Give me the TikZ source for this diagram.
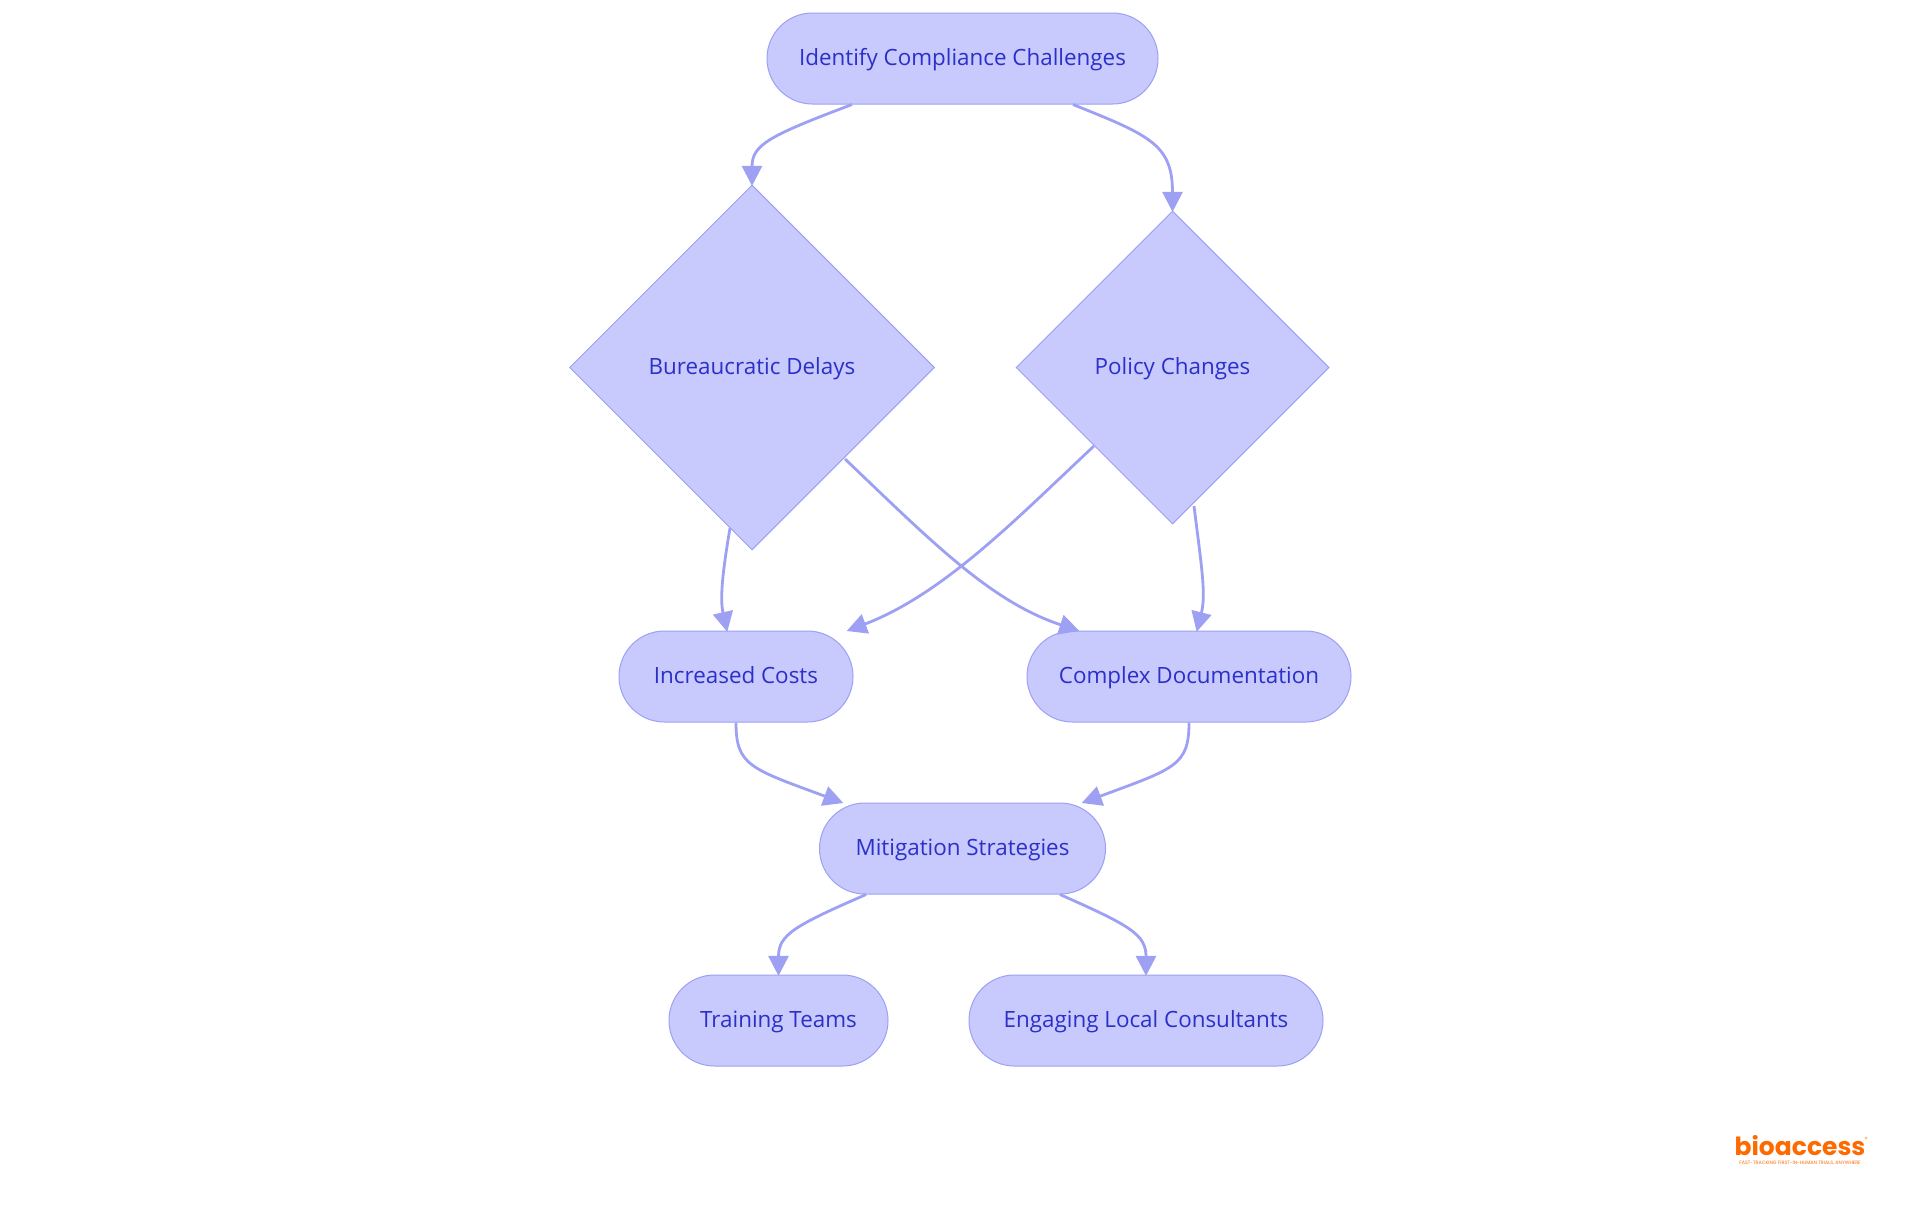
\documentclass[tikz,border=0pt]{standalone}
\usepackage{fontspec}
\usepackage{tikz}
\usetikzlibrary{shapes.geometric,arrows.meta}
\setmainfont{Open Sans}
\newfontfamily\logofont{Poppins}
\definecolor{flowfill}{HTML}{C8C9FD}
\definecolor{flowline}{HTML}{9DA0F3}
\definecolor{flowtext}{HTML}{2B30C8}
\definecolor{logoorange}{HTML}{FF6A00}

\begin{document}
\begin{tikzpicture}[x=0.5pt,y=-0.5pt]
\tikzstyle{pill}=[rectangle,draw=flowline,fill=flowfill,text=flowtext,line width=0.5pt,rounded corners=22.7pt,minimum height=45.5pt,text height=9pt,text depth=2pt,font=\fontsize{11.2}{13}\selectfont]
\tikzstyle{choice}=[diamond,draw=flowline,fill=flowfill,text=flowtext,line width=0.5pt,inner sep=0pt,text height=9pt,text depth=2pt,font=\fontsize{11.2}{13}\selectfont]
\tikzstyle{flow}=[draw=flowline,line width=1.4pt,shorten >=-0.7pt,-{Triangle[length=10pt,width=10pt]}]
\useasboundingbox (0,0) rectangle (1920,1215);

\node[pill,minimum width=195.5pt] (challenges) at (962.5,58.5) {Identify Compliance Challenges};
\node[choice,minimum width=182.5pt,minimum height=182.5pt] (delays) at (752,367.5) {Bureaucratic Delays};
\node[choice,minimum width=156.5pt,minimum height=156.5pt] (policy) at (1172.5,367.5) {Policy Changes};
\node[pill,minimum width=117pt] (costs) at (736,676.5) {Increased Costs};
\node[pill,minimum width=162pt] (docs) at (1189,676.5) {Complex Documentation};
\node[pill,minimum width=143pt] (mitigation) at (962.5,848.5) {Mitigation Strategies};
\node[pill,minimum width=109.5pt] (training) at (778.5,1020.5) {Training Teams};
\node[pill,minimum width=177pt] (consultants) at (1146,1020.5) {Engaging Local Consultants};

\draw[flow] ([shift={(-110.5,0)}]challenges.south) .. controls +(-82,31) and +(0,-40) .. (delays.north);
\draw[flow] ([shift={(110.5,0)}]challenges.south) .. controls +(77,31) and +(0,-66) .. (policy.north);
\draw[flow] ([shift={(-22,160.5)}]delays.center) .. controls +(-8,47) and +(-7,-31) .. ([shift={(-9,0)}]costs.north);
\draw[flow] ([shift={(93,91.5)}]delays.center) .. controls +(85,81) and +(-88,-29) .. ([shift={(-111,0)}]docs.north);
\draw[flow] ([shift={(-78.5,78.5)}]policy.center) .. controls +(-74,69) and +(97,-37) .. ([shift={(112,0)}]costs.north);
\draw[flow] ([shift={(21.5,138.5)}]policy.center) .. controls +(8,64) and +(9,-36) .. ([shift={(8,0)}]docs.north);
\draw[flow] (costs.south) .. controls +(0,43) and +(-92,-34) .. ([shift={(-120.5,0)}]mitigation.north);
\draw[flow] (docs.south) .. controls +(0,43) and +(92,-34) .. ([shift={(120.5,0)}]mitigation.north);
\draw[flow] ([shift={(-96.5,0)}]mitigation.south) .. controls +(-71,31) and +(0,-40) .. (training.north);
\draw[flow] ([shift={(97.5,0)}]mitigation.south) .. controls +(70,31) and +(0,-40) .. (consultants.north);

\node[anchor=base,text=logoorange,inner sep=0pt,font=\logofont\bfseries\fontsize{12.5}{14}\selectfont] (logo) at (1800,1155) {bioaccess};
\node[text=logoorange,inner sep=0pt,font=\logofont\fontsize{3}{4}\selectfont] (logoreg) at (1866,1139) {®};
\node[anchor=base,text=logoorange,inner sep=0pt,font=\logofont\fontsize{2.4}{3}\selectfont] (logotag) at (1800,1164) {FAST-TRACKING FIRST-IN-HUMAN TRIALS, ANYWHERE};
\end{tikzpicture}
\end{document}
